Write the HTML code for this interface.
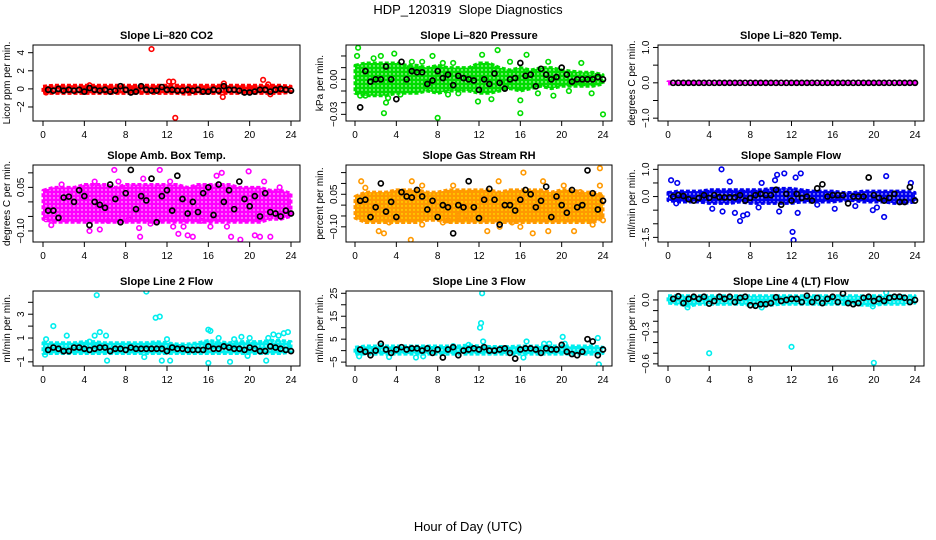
<!DOCTYPE html>
<html><head><meta charset="utf-8"><style>
html,body{margin:0;padding:0;background:#fff}
svg{display:block;font-family:"Liberation Sans",sans-serif}
</style></head><body>
<svg id="c" width="936" height="540" viewBox="0 0 936 540">
<text x="468" y="14" text-anchor="middle" font-size="13">HDP_120319&#160; Slope Diagnostics</text>
<text x="468" y="531" text-anchor="middle" font-size="13">Hour of Day (UTC)</text>
</svg>
<script>
const bandHours=[0,1,2,3,4,5,6,7,8,9,10,11,12,13,14,15,16,17,18,19,20,21,22,23,24];
const blackHours=[0.5,1,1.5,2,2.5,3,3.5,4,4.5,5,5.5,6,6.5,7,7.5,8,8.5,9,9.5,10,10.5,11,11.5,12,12.5,13,13.5,14,14.5,15,15.5,16,16.5,17,17.5,18,18.5,19,19.5,20,20.5,21,21.5,22,22.5,23,23.5,24];
const xTicks=[0,4,8,12,16,20,24];

const co2Lo=[-0.5,-0.5,-0.5,-0.5,-0.5,-0.5,-0.5,-0.5,-0.5,-0.5,-0.5,-0.5,-0.5,-0.5,-0.6,-0.5,-0.5,-0.5,-0.5,-0.5,-0.5,-0.5,-0.5,-0.5,-0.4];
const co2Hi=[0.3,0.4,0.4,0.4,0.4,0.4,0.4,0.4,0.4,0.4,0.4,0.4,0.4,0.4,0.4,0.4,0.4,0.4,0.4,0.4,0.4,0.4,0.4,0.4,0.3];
const co2Black=[-0.1,-0.2,0.0,-0.2,-0.1,-0.2,-0.1,-0.3,0.1,-0.1,-0.2,-0.1,-0.3,-0.2,0.3,-0.1,-0.4,-0.3,0.3,-0.1,-0.2,-0.2,0.2,-0.1,-0.1,-0.2,-0.2,-0.1,-0.2,-0.1,-0.3,-0.3,-0.1,-0.2,0.3,-0.1,-0.1,-0.2,-0.4,-0.4,-0.3,-0.1,-0.1,-0.3,-0.1,0.0,-0.1,-0.2];
const co2OutX=[10.5,12.8,12.2,12.6,17.4,21.3,17.5,4.5,0.3,21.8,22];
const co2OutY=[4.4,-3.2,0.8,0.8,-0.9,1.0,0.6,0.4,-0.4,0.5,-0.6];

const presLo=[-0.012,-0.014,-0.014,-0.014,-0.012,-0.012,-0.012,-0.01,-0.012,-0.01,-0.01,-0.01,-0.012,-0.012,-0.01,-0.008,-0.01,-0.008,-0.006,-0.008,-0.006,-0.006,-0.006,-0.006,-0.004];
const presHi=[0.012,0.014,0.014,0.014,0.014,0.012,0.012,0.01,0.012,0.01,0.01,0.01,0.014,0.014,0.01,0.008,0.01,0.008,0.01,0.01,0.008,0.007,0.006,0.006,0.004];
const presBlack=[-0.024,0.007,-0.002,0.0,0.0,0.011,0.0,-0.017,0.015,0.0,0.007,0.006,0.006,-0.004,-0.001,0.007,0.001,0.004,-0.005,0.003,0.001,0.0,-0.001,-0.009,0.0,-0.004,0.005,-0.003,-0.008,0.0,0.001,0.014,0.003,0.004,-0.006,0.009,0.004,0.0,0.002,0.01,0.004,-0.002,0.0,0.0,0.0,0.0,0.002,0.0];
const presOutX=[0.3,0.2,2.8,3.8,8,7.5,12.3,13.8,11.9,16,16,16.6,24,3,1,0.5,2.5,5.5,6.5,8.5,9,10,13.2,15,18.7,21.9,22.9,19.2,20.7,4.4,3.2,17.7,1.8,9.5];
const presOutY=[0.027,0.02,-0.029,0.022,-0.033,0.02,0.021,0.025,-0.019,-0.018,-0.029,0.021,-0.03,-0.02,-0.014,-0.014,0.02,0.015,0.015,0.014,-0.013,-0.012,-0.017,0.015,0.015,0.014,-0.012,-0.014,-0.01,-0.013,-0.016,-0.012,0.018,0.014];

const tempLo=[-0.03,-0.03,-0.03,-0.03,-0.03,-0.03,-0.03,-0.03,-0.03,-0.03,-0.03,-0.03,-0.03,-0.03,-0.03,-0.03,-0.03,-0.03,-0.03,-0.03,-0.03,-0.03,-0.03,-0.03,-0.03];
const tempHi=[0.03,0.03,0.03,0.03,0.03,0.03,0.03,0.03,0.03,0.03,0.03,0.03,0.03,0.03,0.03,0.03,0.03,0.03,0.03,0.03,0.03,0.03,0.03,0.03,0.03];
const tempBlack=[0,0,0,0,0,0,0,0,0,0,0,0,0,0,0,0,0,0,0,0,0,0,0,0,0,0,0,0,0,0,0,0,0,0,0,0,0,0,0,0,0,0,0,0,0,0,0,0];
const tempOutX=[];
const tempOutY=[];

const ambLo=[-0.06,-0.07,-0.07,-0.07,-0.07,-0.07,-0.07,-0.07,-0.07,-0.07,-0.07,-0.07,-0.07,-0.07,-0.07,-0.07,-0.07,-0.07,-0.07,-0.07,-0.07,-0.07,-0.06,-0.06,-0.05];
const ambHi=[0.04,0.05,0.05,0.05,0.06,0.06,0.06,0.05,0.06,0.06,0.06,0.06,0.06,0.06,0.05,0.06,0.06,0.06,0.06,0.05,0.05,0.05,0.04,0.04,0.03];
const ambBlack=[-0.03,-0.03,-0.055,0.015,0.018,0.0,0.04,0.02,-0.08,0.0,-0.01,-0.02,0.06,0.01,-0.07,0.03,0.11,-0.025,0.02,0.005,0.08,-0.07,0.02,0.04,-0.03,0.09,0.01,-0.04,0.0,-0.035,0.03,0.05,-0.045,0.06,0.0,0.04,-0.025,0.07,0.01,-0.015,0.02,-0.05,0.03,-0.035,-0.04,-0.05,-0.03,-0.04];
const ambOutX=[0.3,0.8,1.8,4.5,5.5,6.3,6.9,7.3,9.3,9.4,9.7,10.4,11.3,12.6,13.1,13.6,14,14.5,15.3,16.2,16.8,17.3,17.8,18.2,19.1,19.9,20.5,21,22,21.4,22.9,5.0,8.3,12.3];
const ambOutY=[-0.06,-0.08,0.06,-0.1,-0.095,-0.065,0.11,0.07,-0.09,-0.12,0.08,-0.075,0.11,-0.085,-0.11,-0.085,-0.115,-0.12,-0.065,-0.085,0.09,0.1,-0.085,-0.12,-0.13,0.105,-0.115,-0.12,-0.12,0.07,0.05,0.07,-0.06,0.07];

const rhLo=[-0.06,-0.08,-0.08,-0.08,-0.08,-0.08,-0.08,-0.07,-0.07,-0.08,-0.08,-0.08,-0.08,-0.08,-0.08,-0.08,-0.08,-0.08,-0.08,-0.08,-0.08,-0.08,-0.08,-0.08,-0.06];
const rhHi=[0.04,0.06,0.06,0.06,0.07,0.07,0.07,0.06,0.06,0.07,0.07,0.07,0.07,0.07,0.06,0.07,0.07,0.07,0.07,0.06,0.07,0.07,0.06,0.06,0.05];
const rhBlack=[0.02,0.025,-0.055,-0.01,0.1,-0.03,0.015,-0.055,0.06,0.04,0.035,0.07,0.04,-0.02,0.02,-0.055,0.0,-0.01,-0.13,0.0,-0.01,0.11,-0.01,-0.06,0.025,0.075,0.025,-0.09,0.0,0.0,-0.025,0.025,0.07,0.05,-0.01,0.02,0.085,-0.055,0.04,0.0,-0.035,0.07,-0.01,0.0,0.16,0.055,-0.02,0.02];
const rhOutX=[0.6,1,2.3,2.8,3.3,5.4,5.5,6.5,6.5,8.5,9,9.5,10,12.8,13.9,14,15.2,16,16.3,17.2,18.2,18.7,20.2,21.2,21.8,23,23.7,23.7,24,11,3.7];
const rhOutY=[0.11,0.08,-0.12,-0.13,-0.08,-0.16,0.11,0.09,-0.09,-0.08,-0.07,0.09,-0.05,-0.12,0.11,-0.1,-0.08,-0.1,0.15,-0.13,0.11,-0.12,0.09,-0.12,0.06,-0.09,0.17,0.09,-0.07,-0.06,0.05];

const sfLo=[-0.15,-0.2,-0.2,-0.2,-0.25,-0.25,-0.25,-0.2,-0.25,-0.25,-0.25,-0.25,-0.25,-0.2,-0.2,-0.2,-0.2,-0.15,-0.15,-0.2,-0.2,-0.2,-0.25,-0.25,-0.2];
const sfHi=[0.15,0.2,0.2,0.2,0.25,0.25,0.25,0.25,0.25,0.25,0.3,0.3,0.3,0.25,0.2,0.2,0.2,0.15,0.15,0.2,0.2,0.2,0.2,0.2,0.15];
const sfBlack=[0.0,0.05,0.02,-0.1,-0.15,-0.05,0.05,-0.05,0.05,-0.02,-0.03,-0.03,-0.03,0.05,-0.15,-0.05,0.05,0.1,0.05,0.05,0.25,-0.3,0.1,-0.15,0.1,-0.05,0.0,-0.15,0.3,0.45,0.0,0.05,0.05,0.05,-0.25,0.0,0.0,0.0,0.7,0.05,-0.05,-0.15,-0.05,0.1,-0.2,-0.2,0.35,-0.15];
const sfOutX=[0.3,0.9,5.2,6.0,5.3,6.5,7.0,7.3,7.7,9.1,10.4,10.6,11.3,12.1,12.2,12.4,12.6,12.9,16.2,19.9,20.3,21.0,21.2,23.6,4.3,8.8,10.8,0.8,14.5,18.2];
const sfOutY=[0.6,0.5,1.0,0.55,-0.55,-0.6,-0.9,-0.7,-0.65,0.5,0.6,0.8,0.85,-1.3,-1.6,0.7,-0.6,0.85,-0.45,-0.5,-0.4,-0.75,0.75,0.5,-0.45,-0.4,-0.55,-0.25,-0.3,-0.35];

const l2Lo=[-0.3,-0.3,-0.3,-0.3,-0.3,-0.3,-0.3,-0.3,-0.3,-0.3,-0.3,-0.3,-0.3,-0.3,-0.3,-0.3,-0.3,-0.3,-0.3,-0.3,-0.3,-0.3,-0.3,-0.3,-0.2];
const l2Hi=[0.6,0.6,0.6,0.6,0.7,0.7,0.6,0.6,0.6,0.6,0.6,0.7,0.6,0.5,0.5,0.6,0.8,0.7,0.6,0.7,0.7,0.7,0.8,0.8,0.7];
const l2Black=[0.0,0.2,0.1,-0.1,-0.1,0.2,0.2,0.1,0.0,0.1,0.2,0.2,-0.1,0.1,0.1,0.0,0.2,0.1,0.1,0.1,0.1,0.1,0.1,-0.1,0.2,0.1,0.1,0.0,0.0,0.0,0.0,0.3,0.1,0.1,0.3,0.2,0.1,0.1,0.0,0.2,0.1,-0.1,-0.1,0.3,0.2,0.1,0.0,-0.1];
const l2OutX=[0.2,0.3,1.0,2.3,4.5,5.2,5.5,5.0,6.2,6.1,10.0,10.9,11.3,11.5,12.0,12.3,16.0,16.2,16.0,18.1,17.0,18.5,19.2,20.0,21.6,21.8,22.3,22.8,23.3,23.7,9.8,19.8];
const l2OutY=[-0.4,0.9,2.0,1.2,0.7,4.6,1.5,1.2,-0.9,1.2,4.9,2.7,2.8,-0.9,0.9,-0.9,1.7,1.6,-1.1,-1.0,1.0,0.9,1.1,1.0,-0.9,1.0,1.3,1.2,1.4,1.5,-0.6,-0.5];

const l3Lo=[-1.5,-1.5,-1.5,-1.5,-1.5,-1.5,-1.5,-1.5,-1.5,-1.5,-1.5,-1.5,-1.5,-1.5,-1.5,-1.5,-1.5,-1.5,-1.5,-1.5,-1.5,-1.5,-1.5,-1.5,-1.2];
const l3Hi=[1.5,2,2,2,2,2,2,2,2,2,2,2.5,2,1.8,1.8,1.8,2,2,2,2,2,2,2,2,1.5];
const l3Black=[0.5,-0.5,-2,0,3,0.5,-1,0.5,1.5,0.5,1,1,0,1,-1,0.5,-3,0.5,1.5,-2,0,0.5,1,0.5,1.5,0,0,0.5,1,-1,-3.5,0.5,1,1,0.5,-1,1,0.5,0.5,2.5,-0.5,-1.5,-2,-0.5,5,4,-2,0.5];
const l3OutX=[0.4,3.3,5.9,6.6,12.1,12.2,12.3,12.4,16.3,16.6,18.3,18.8,20.1,20.3,23.6,23.5,9.5,11,2.5];
const l3OutY=[-2.5,-2.8,-3,-2.5,10,12,25,4,-3,4,3,3,6,3,-6,5.5,2,2.5,2];

const l4Lo=[-0.03,-0.04,-0.06,-0.04,-0.04,-0.04,-0.04,-0.04,-0.05,-0.06,-0.05,-0.04,-0.04,-0.04,-0.04,-0.04,-0.04,-0.04,-0.04,-0.05,-0.05,-0.04,-0.04,-0.04,-0.03];
const l4Hi=[0.04,0.04,0.04,0.04,0.04,0.04,0.04,0.04,0.04,0.04,0.04,0.04,0.04,0.04,0.04,0.04,0.04,0.04,0.04,0.04,0.04,0.04,0.04,0.04,0.04];
const l4Black=[0.01,0.035,-0.03,0.01,0.03,0.01,0.03,-0.035,-0.01,0.03,0.01,0.03,-0.02,0.02,0.03,-0.05,-0.055,-0.04,-0.04,-0.03,0.025,-0.01,0,0.01,0.01,-0.02,0.04,-0.02,0.02,-0.03,0.01,0.03,-0.02,0.06,-0.03,-0.04,-0.03,0.02,0.03,-0.01,0.01,-0.01,0.02,0.03,0.03,0.02,-0.02,0.0];
const l4OutX=[4,12,20,21.2,19.9,1.9,9.1];
const l4OutY=[-0.5,-0.44,-0.59,0.07,-0.06,-0.07,-0.07];

const panels=[
 {key:'co2',title:'Slope Li\u2013820 CO2',ylab:'Licor ppm per min.',col:'#ff0000',c:0,r:0,ymin:-3.55,ymax:4.85,ticks:[-2,0,2,4],labels:['\u22122','0','2','4'],lo:co2Lo,hi:co2Hi,bk:co2Black,ox:co2OutX,oy:co2OutY},
 {key:'pressure',title:'Slope Li\u2013820 Pressure',ylab:'kPa per min.',col:'#00dd00',c:1,r:0,ymin:-0.0357,ymax:0.0294,ticks:[-0.03,-0.02,-0.01,0,0.01,0.02],labels:['\u22120.03','','','0.00','',''],lo:presLo,hi:presHi,bk:presBlack,ox:presOutX,oy:presOutY},
 {key:'temp',title:'Slope Li\u2013820 Temp.',ylab:'degrees C per min.',col:'#ff00ff',c:2,r:0,ymin:-1.08,ymax:1.07,ticks:[-1,-0.5,0,0.5,1],labels:['\u22121.0','','0.0','','1.0'],lo:tempLo,hi:tempHi,bk:tempBlack,ox:tempOutX,oy:tempOutY},
 {key:'amb',title:'Slope Amb. Box Temp.',ylab:'degrees C per min.',col:'#ff00ff',c:0,r:1,ymin:-0.138,ymax:0.127,ticks:[-0.1,-0.05,0,0.05,0.1],labels:['\u22120.10','','','0.05',''],lo:ambLo,hi:ambHi,bk:ambBlack,ox:ambOutX,oy:ambOutY},
 {key:'rh',title:'Slope Gas Stream RH',ylab:'percent per min.',col:'#ff9900',c:1,r:1,ymin:-0.17,ymax:0.185,ticks:[-0.1,-0.05,0,0.05,0.1,0.15],labels:['\u22120.10','','','0.05','',''],lo:rhLo,hi:rhHi,bk:rhBlack,ox:rhOutX,oy:rhOutY},
 {key:'sampleflow',title:'Slope Sample Flow',ylab:'ml/min per min.',col:'#0000ee',c:2,r:1,ymin:-1.67,ymax:1.16,ticks:[-1.5,-1,-0.5,0,0.5,1],labels:['\u22121.5','','','0.0','','1.0'],lo:sfLo,hi:sfHi,bk:sfBlack,ox:sfOutX,oy:sfOutY},
 {key:'line2',title:'Slope Line 2 Flow',ylab:'ml/min per min.',col:'#00eeee',c:0,r:2,ymin:-1.35,ymax:4.95,ticks:[-1,0,1,2,3,4],labels:['\u22121','','1','','3',''],lo:l2Lo,hi:l2Hi,bk:l2Black,ox:l2OutX,oy:l2OutY},
 {key:'line3',title:'Slope Line 3 Flow',ylab:'ml/min per min.',col:'#00eeee',c:1,r:2,ymin:-6.7,ymax:26.0,ticks:[-5,0,5,10,15,20,25],labels:['\u22125','','5','','15','','25'],lo:l3Lo,hi:l3Hi,bk:l3Black,ox:l3OutX,oy:l3OutY},
 {key:'line4',title:'Slope Line 4 (LT) Flow',ylab:'ml/min per min.',col:'#00eeee',c:2,r:2,ymin:-0.62,ymax:0.084,ticks:[-0.6,-0.5,-0.4,-0.3,-0.2,-0.1,0],labels:['\u22120.6','','','\u22120.3','','','0.0'],lo:l4Lo,hi:l4Hi,bk:l4Black,ox:l4OutX,oy:l4OutY}
];
const colBox=[[33,300,43,291],[346,612,355,603],[658,924,668,915]];
const rowBox=[[45,121],[165,242],[291,366]];
const NS='http://www.w3.org/2000/svg';
const svg=document.getElementById('c');
function mk(tag,attrs,parent){const e=document.createElementNS(NS,tag);for(const k in attrs)e.setAttribute(k,attrs[k]);(parent||svg).appendChild(e);return e;}
const defs=mk('defs',{});

panels.forEach(p=>{
 const [L,R,x0,x24]=colBox[p.c];const [T,B]=rowBox[p.r];
 const xs=h=>x0+(x24-x0)*h/24;
 const ys=v=>B-(v-p.ymin)/(p.ymax-p.ymin)*(B-T);
 const pat=mk('pattern',{id:'pt-'+p.key,width:4,height:4,patternUnits:'userSpaceOnUse'},defs);
 mk('rect',{x:0,y:0,width:4,height:4,fill:p.col},pat);
 mk('circle',{cx:2,cy:2,r:0.7,fill:p.key==='rh'?'#ffff00':'#ffffff'},pat);
 const g=mk('g',{});
 
 
 const cp=mk('clipPath',{id:'cp-'+p.key},g);
 mk('rect',{x:L,y:T,width:R-L,height:B-T},cp);
 const t=mk('text',{x:(L+R)/2,y:T-6,'text-anchor':'middle','font-size':11,'font-weight':'bold'},g);
 t.textContent=p.title;
 
 
 const yl=mk('text',{transform:`translate(${L-23},${(T+B)/2}) rotate(-90)`,'text-anchor':'middle','font-size':10},g);
 yl.textContent=p.ylab;
 
 
 const plot=mk('g',{'clip-path':`url(#cp-${p.key})`},g);
 
 
 let d='';
 bandHours.forEach((h,i)=>{d+=(i?'L':'M')+xs(h).toFixed(1)+','+ys(p.hi[i]).toFixed(1);});
 for(let i=bandHours.length-1;i>=0;i--)d+='L'+xs(bandHours[i]).toFixed(1)+','+ys(p.lo[i]).toFixed(1);
 const band=mk('path',{d:d+'Z',fill:`url(#pt-${p.key})`,stroke:p.col,'stroke-width':3,'stroke-linejoin':'round','stroke-dasharray':'4 2'},plot);
 
 
 p.ox.forEach((h,i)=>{
  const c=mk('circle',{cx:xs(h),cy:ys(p.oy[i]),r:2.3,fill:'none',stroke:p.col,'stroke-width':1.6},plot);
  
  
 });
 p.bk.forEach((v,i)=>{
  if(i>=blackHours.length)return;
  const c=mk('circle',{cx:xs(blackHours[i]),cy:ys(v),r:2.5,fill:'none',stroke:'#000','stroke-width':1.7},plot);
  
  
 });
 const box=mk('rect',{x:L,y:T,width:R-L,height:B-T,fill:'none',stroke:'#000','stroke-width':1},g);
 
 
 xTicks.forEach(h=>{
  mk('line',{x1:xs(h),x2:xs(h),y1:B,y2:B+5,stroke:'#000'},g);
  const tx=mk('text',{x:xs(h),y:B+17,'text-anchor':'middle','font-size':10},g);
  tx.textContent=h;
  
  
 });
 p.ticks.forEach((v,i)=>{
  mk('line',{x1:L,x2:L-5,y1:ys(v),y2:ys(v),stroke:'#000'},g);
  if(p.labels[i]){
   const ty=mk('text',{transform:`translate(${L-9},${ys(v)}) rotate(-90)`,'text-anchor':'middle','font-size':10},g);
   ty.textContent=p.labels[i];
   
   
  }
 });
});
</script>
</body></html>
